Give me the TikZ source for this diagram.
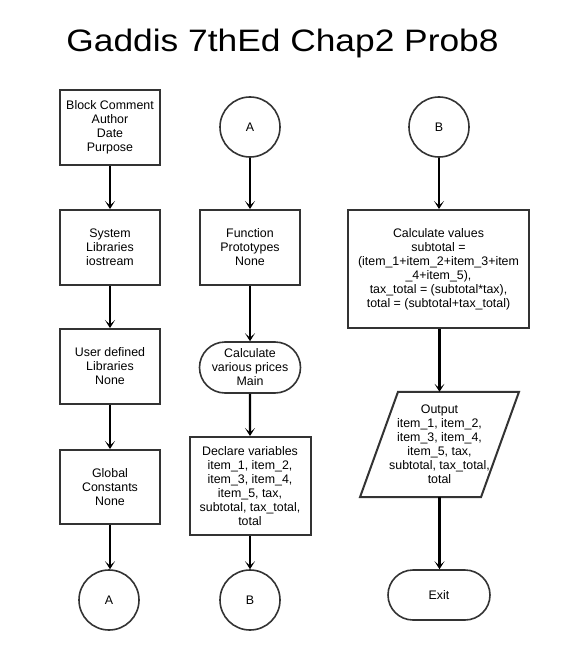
\documentclass[tikz,border=0pt]{standalone}
\usepackage{fontspec}
\setmainfont{Liberation Sans}
\usetikzlibrary{shapes.misc,arrows.meta}
\definecolor{edge}{HTML}{333333}
\tikzset{
  x=1pt,y=-1pt,
  txt/.style={font=\fontsize{12.4}{14}\selectfont,align=center,inner sep=0pt},
  procbox/.style={txt,draw=edge,line width=2pt,rectangle,minimum width=#1},
  procbox/.default=100pt,
  conn/.style={txt,draw=edge,line width=1.6pt,circle,minimum size=60pt},
  term/.style={txt,draw=edge,line width=1.6pt,rounded rectangle,minimum width=101pt,minimum height=51pt},
  flow/.style={draw=black,line width=2.2pt,-{Stealth[length=8pt,width=10pt,inset=4.5pt]}}
}
\begin{document}
\begin{tikzpicture}
\useasboundingbox (0,0) rectangle (573,650);
\fill[white] (0,0) rectangle (573,650);
\node[anchor=base,inner sep=0pt,font=\fontsize{31}{31}\selectfont] (title) at (282.5,52) {\scalebox{1.14}[1]{Gaddis 7thEd Chap2 Prob8}};
% left column
\node[procbox,minimum height=75pt] (b1) at (110,127.5) {Block Comment\\Author\\Date\\Purpose};
\node[procbox,minimum height=75pt] (b2) at (110,247.5) {System\\Libraries\\iostream};
\node[procbox,minimum height=75pt] (b3) at (110,366.5) {User defined\\Libraries\\None};
\node[procbox,minimum height=74pt] (b4) at (110,487) {Global\\Constants\\None};
\node[conn] (a1) at (109,600) {A};
% middle column
\node[conn] (a2) at (250,127) {A};
\node[procbox,minimum height=75pt] (fp) at (250,247.5) {Function\\Prototypes\\None};
\node[term] (mn) at (250,367.5) {Calculate\\various prices\\Main};
\node[procbox=121pt,minimum height=98pt] (dv) at (250,486) {Declare variables\\item\_1, item\_2,\\item\_3, item\_4,\\item\_5, tax,\\subtotal, tax\_total,\\total};
\node[conn] (b2c) at (250,600) {B};
% right column
\node[conn] (b3c) at (439,127) {B};
\node[procbox=181pt,minimum height=118pt] (cv) at (438.5,269) {Calculate values\\subtotal =\\(item\_1+item\_2+item\_3+item\\\_4+item\_5),\\tax\_total = (subtotal*tax),\\total = (subtotal+tax\_total)};
\node[txt,minimum width=121pt,minimum height=105pt] (out) at (439.5,444.5) {Output\\item\_1, item\_2,\\item\_3, item\_4,\\item\_5, tax,\\subtotal, tax\_total,\\total};
\draw[draw=edge,line width=2pt,line join=miter] ([xshift=-79.5pt]out.south) -- ([xshift=-41.5pt]out.north) -- ([xshift=79.5pt]out.north) -- ([xshift=41.5pt]out.south) -- cycle;
\node[term,minimum width=102pt,minimum height=50pt] (ex) at (439,595) {Exit};
% connectors
\draw[flow] (b1) -- (b2);
\draw[flow] (b2) -- (b3);
\draw[flow] (b3) -- (b4);
\draw[flow] (b4.south) -- ([xshift=1pt]a1.north);
\draw[flow] (a2) -- (fp);
\draw[flow] (fp) -- (mn);
\draw[flow] (mn) -- (dv);
\draw[flow] (dv) -- (b2c);
\draw[flow] (b3c) -- (b3c |- cv.north);
\draw[flow] (cv.south -| out) -- (out.north);
\draw[flow] (out.south) -- (out.south |- ex.north);
\end{tikzpicture}
\end{document}
